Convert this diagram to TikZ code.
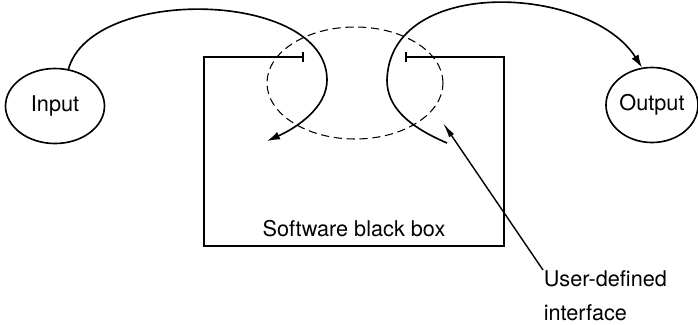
\documentclass[tikz,border=0pt]{standalone}
\usepackage{fontspec}
\setmainfont{TeX Gyre Heros}
\usetikzlibrary{arrows.meta}
\usetikzlibrary{shapes.geometric}

\begin{document}
\begin{tikzpicture}[x=0.03cm, y=-0.03cm, line width=1.4pt,
		font=\fontsize{18.5}{29}\selectfont,
		port/.style={draw, ellipse, inner sep=0pt, minimum height=2.25cm},
		flow/.style={-{Latex[length=11pt, width=7pt]}},
		pointer/.style={line width=1.2pt, -{Latex[length=13pt, width=5pt]}}]
			\useasboundingbox (0, 0) rectangle (698, 324);

			\node[port, minimum width=2.97cm](in) at (55, 106){Input};
			\node[port, minimum width=2.75cm](out) at (652, 105){Output};

			\draw[{Bar[width=9pt]}-{Bar[width=9pt]}](304, 57) -| (204, 246) -| (504, 57) -- (405, 57);
			\node(box) at (354, 229){Software black box};

			\node[draw, dashed, ellipse, line width=0.9pt, dash pattern=on 7pt off 4pt,
				minimum width=5.28cm, minimum height=3.36cm](iface) at (355, 83){};

			\coordinate(enter) at (267, 141);
			\coordinate(leave) at (447, 143);
			\draw[flow](in.70) .. controls (92, -15) and (327, -10) .. (327, 80)
				.. controls (327, 108) and (296, 128) .. (enter);
			\draw[flow](leave) .. controls (405, 125) and (387, 105) .. (387, 80)
				.. controls (390, -25) and (590, -15) .. (out.105);

			\node[anchor=north west, align=left, inner sep=0pt](note) at (543, 270){User-defined\\interface};
			\coordinate(hit) at (443, 123);
			\draw[pointer](note.north west) -- (hit);
		\end{tikzpicture}
\end{document}
